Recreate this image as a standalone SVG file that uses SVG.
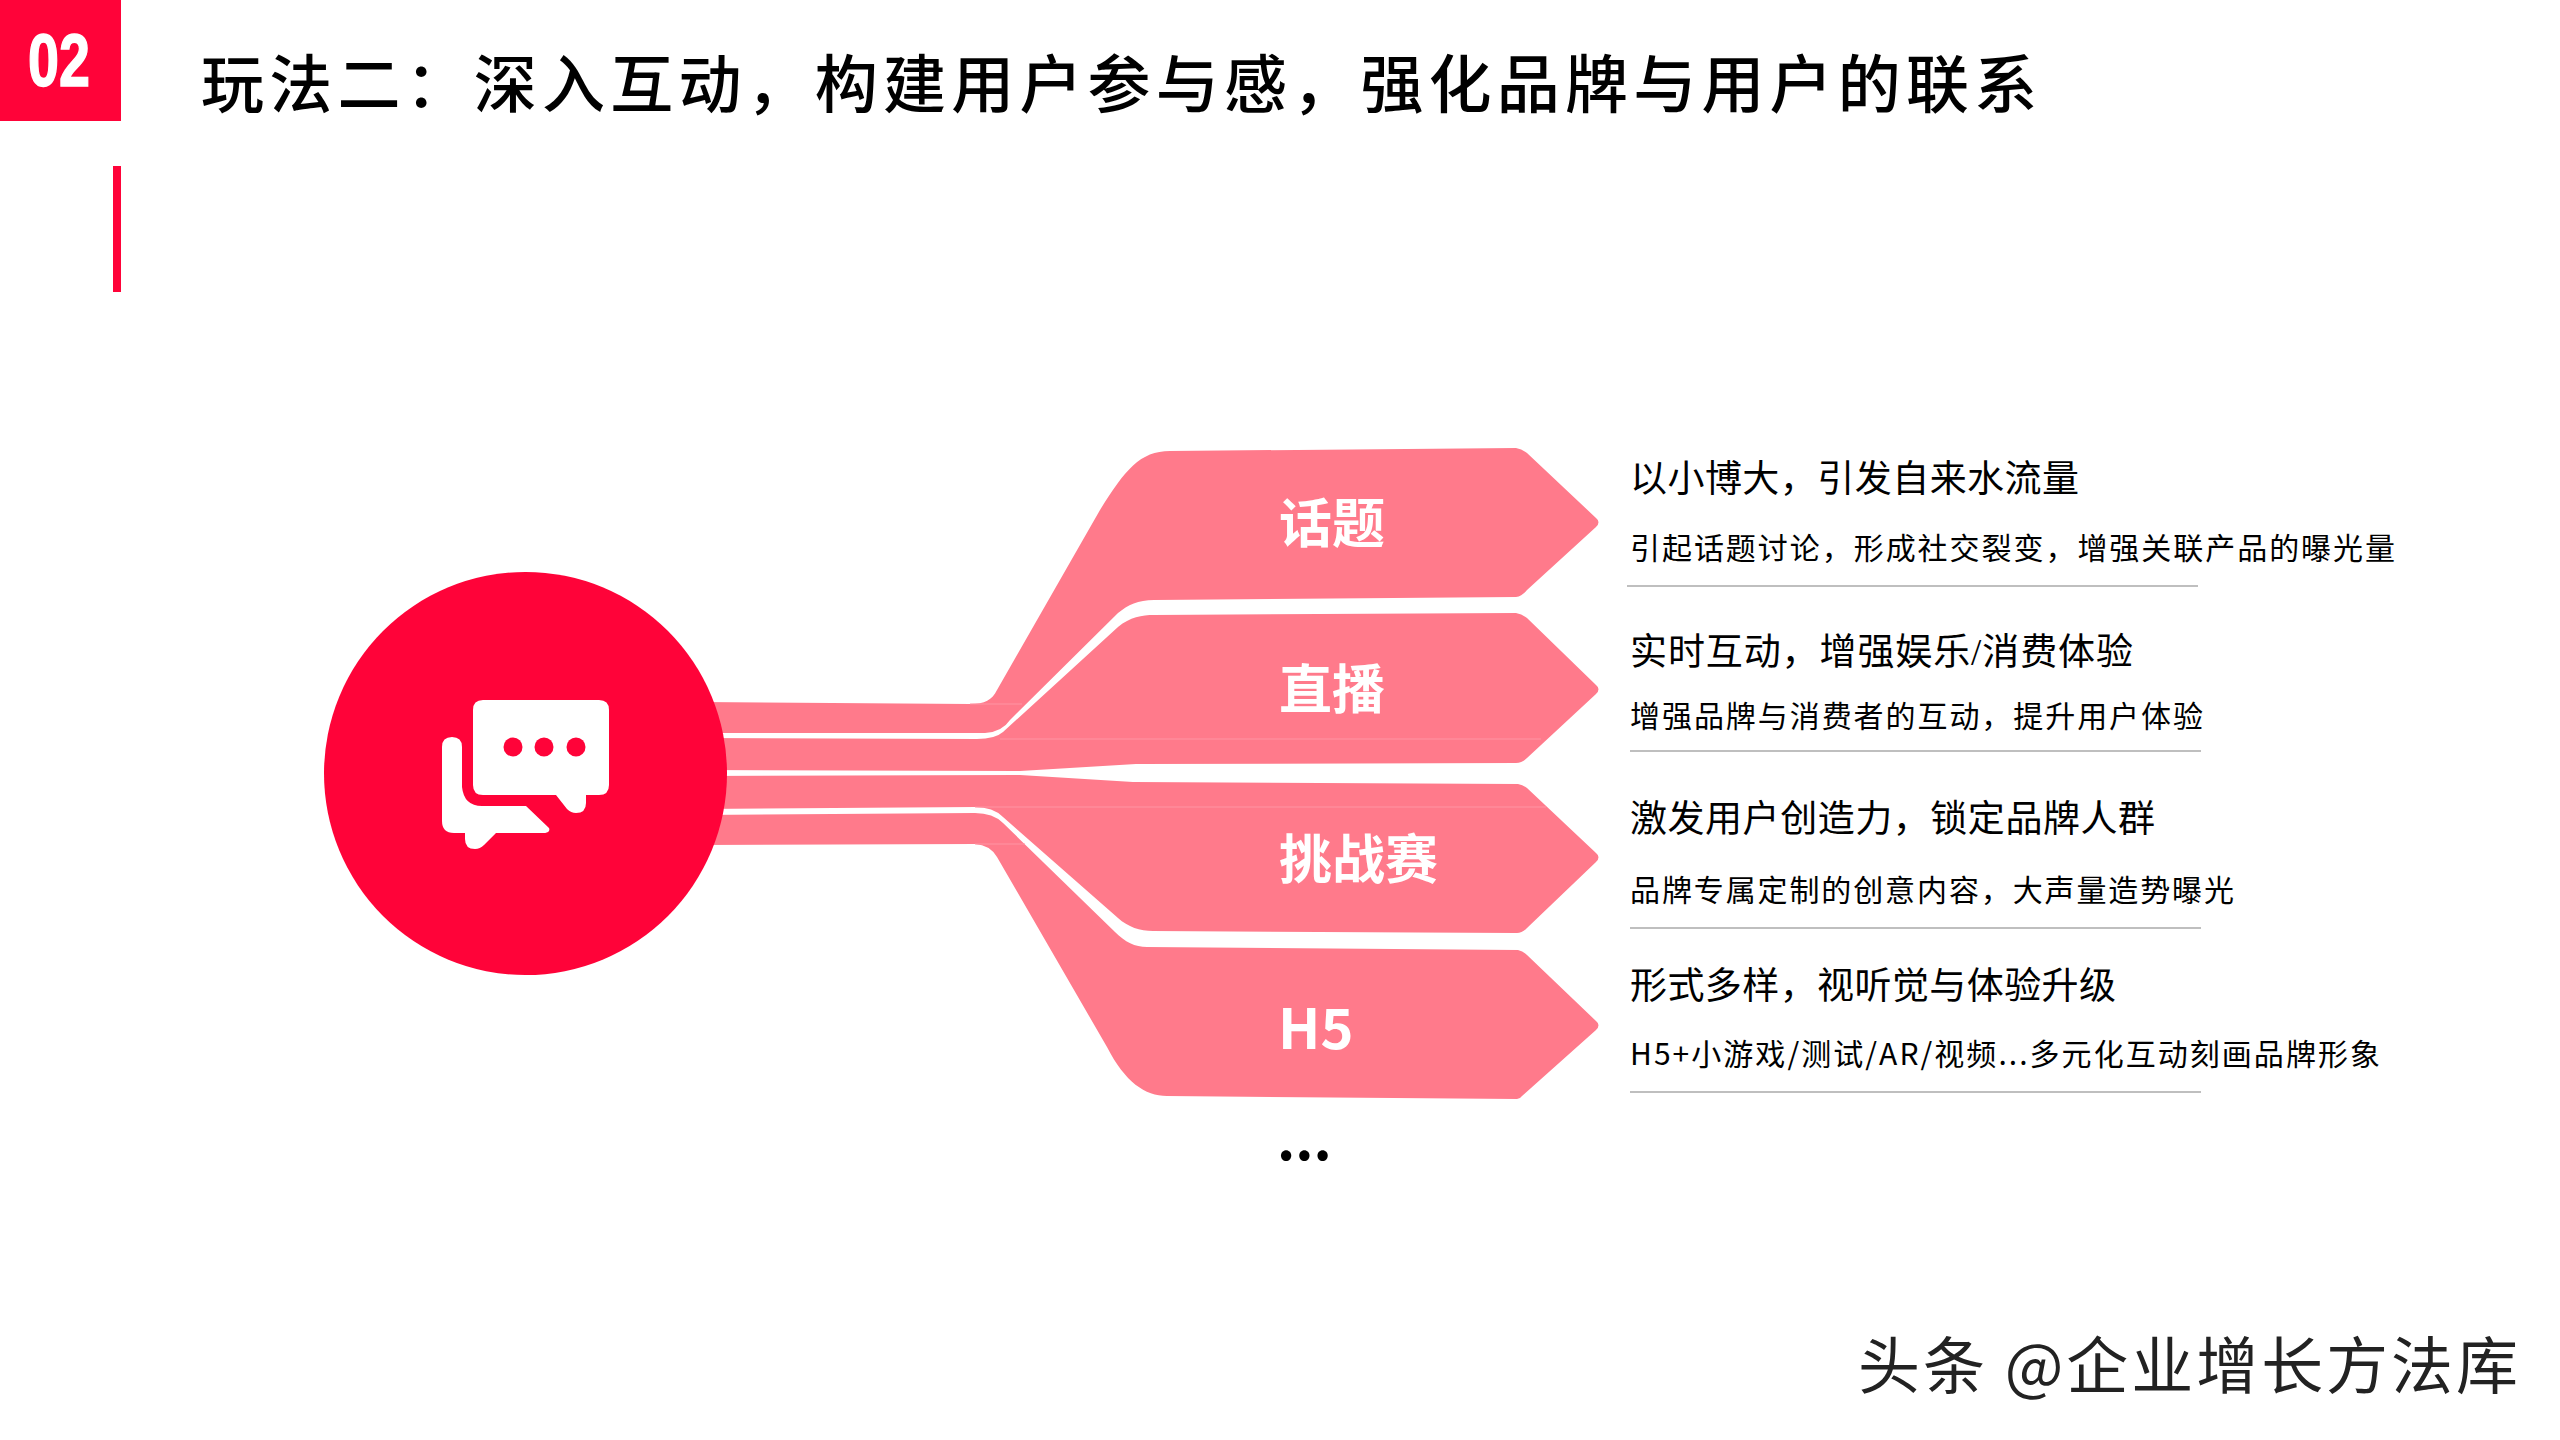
<svg xmlns="http://www.w3.org/2000/svg" width="2560" height="1440" viewBox="0 0 2560 1440">
<style>
.red{fill:#ff0339}
.pk{fill:#ff7a8b}
.hair{stroke:#ff94a3;stroke-width:1;fill:none}
.t{font-family:"Liberation Serif","Noto Sans CJK SC",sans-serif;fill:#000}
.h{font-size:37px;font-weight:400}
.s{font-size:30px;font-weight:400}
.l{font-family:"Noto Sans CJK SC",sans-serif;font-size:53px;font-weight:700;fill:#fff}
.rule{stroke:#bfbfbf;stroke-width:2}
</style>
<rect width="2560" height="1440" fill="#fff"/>
<g id="badge"><rect class="red" width="121" height="121"/><text x="28" y="86" textLength="62" lengthAdjust="spacingAndGlyphs" font-family="Liberation Sans" font-weight="700" font-size="74" fill="#fff" stroke="#fff" stroke-width="1.5">02</text></g>
<rect id="accent" class="red" x="113" y="166" width="8" height="126"/>
<text id="title" x="201" y="107" font-family="Noto Sans CJK SC,sans-serif" font-size="63" font-weight="500" letter-spacing="5.2" fill="#000">玩法二：深入互动，构建用户参与感，强化品牌与用户的联系</text>
<g id="connectors">
<path id="c1" class="pk" d="M700 702L970 704C985 704 992 700 997 690L1100 510C1125 470 1140 451 1170 451L1516 448Q1522 449 1527 453L1596 518Q1601 522 1596 527L1527 590Q1522 596 1516 597L1154 600C1138 600 1128 605 1118 613L1010 720Q1002 732 985 733L700 733Z"/>
<path id="c2" class="pk" d="M700 738L977 739Q995 739 1003 732L1118 627C1130 617 1142 615 1154 615L1516 613Q1522 614 1527 618L1596 685Q1601 689 1596 694L1527 758Q1522 763 1516 763L1136 764L1020 771L700 770Z"/>
<path id="c3" class="pk" d="M700 776L1020 775L1133 782L1518 784Q1523 785 1527 788L1596 853Q1601 857 1596 862L1527 928Q1522 933 1517 933L1153 931C1140 931 1128 927 1118 918L1003 817Q993 807 975 807L700 809Z"/>
<path id="c4" class="pk" d="M700 815L975 813Q993 813 1003 823L1115 932C1125 942 1135 947 1147 947L1518 950Q1523 951 1527 955L1596 1021Q1601 1025 1596 1030L1522 1096Q1520 1099 1517 1099L1167 1096C1145 1096 1125 1082 1107 1047L997 857Q990 845 975 844L700 845Z"/>
<path class="hair" d="M970 704H1022M1000 739H1541M975 807H1546M975 844H1025"/>
</g>
<g id="hub">
<circle class="red" cx="525.5" cy="773.5" r="201.5"/>
<path fill="#fff" d="M483 700H599Q609 700 609 710V785Q609 795 599 795H586V803Q586 813 576 813Q571 813 567 809L556 795H483Q473 795 473 785V710Q473 700 483 700Z"/>
<path fill="#fff" d="M452 737Q462 737 462 747V787Q464 806 482 806H526L549 828Q551 833 542 833H496L484 845Q480 849 475 849Q465 849 465 839V833H454Q442 833 442 821V747Q442 737 452 737Z"/>
<circle class="red" cx="513" cy="747" r="9.5"/><circle class="red" cx="544" cy="747" r="9.5"/><circle class="red" cx="576" cy="747" r="9.5"/>
</g>
<g id="n1"><text class="l" x="1279" y="543">话题</text><text class="t h" x="1630" y="492" textLength="449">以小博大，引发自来水流量</text><text class="t s" x="1630" y="559" textLength="765">引起话题讨论，形成社交裂变，增强关联产品的曝光量</text><line class="rule" x1="1627" y1="586" x2="2198" y2="586"/></g>
<g id="n2"><text class="l" x="1279" y="709">直播</text><text class="t h" x="1630" y="665" textLength="503">实时互动，增强娱乐/消费体验</text><text class="t s" x="1630" y="727" textLength="573">增强品牌与消费者的互动，提升用户体验</text><line class="rule" x1="1630" y1="751" x2="2201" y2="751"/></g>
<g id="n3"><text class="l" x="1279" y="879">挑战赛</text><text class="t h" x="1630" y="832" textLength="525">激发用户创造力，锁定品牌人群</text><text class="t s" x="1630" y="901" textLength="604">品牌专属定制的创意内容，大声量造势曝光</text><line class="rule" x1="1630" y1="928" x2="2201" y2="928"/></g>
<g id="n4"><text class="l" x="1278" y="1049" style="font-size:56px">H5</text><text class="t h" x="1630" y="999" textLength="486">形式多样，视听觉与体验升级</text><text x="1630" y="1065" font-family="Noto Sans CJK SC,sans-serif" font-size="30" textLength="750" fill="#000">H5+小游戏/测试/AR/视频...多元化互动刻画品牌形象</text><line class="rule" x1="1630" y1="1092" x2="2201" y2="1092"/></g>
<text id="more" x="1277" y="1160" font-family="Noto Sans CJK SC,sans-serif" font-size="56" font-weight="700" fill="#000">...</text>
<text id="watermark" x="1858" y="1389" font-family="Noto Sans CJK SC,sans-serif" font-size="62" fill="#222" textLength="660">头条 @企业增长方法库</text>
</svg>
